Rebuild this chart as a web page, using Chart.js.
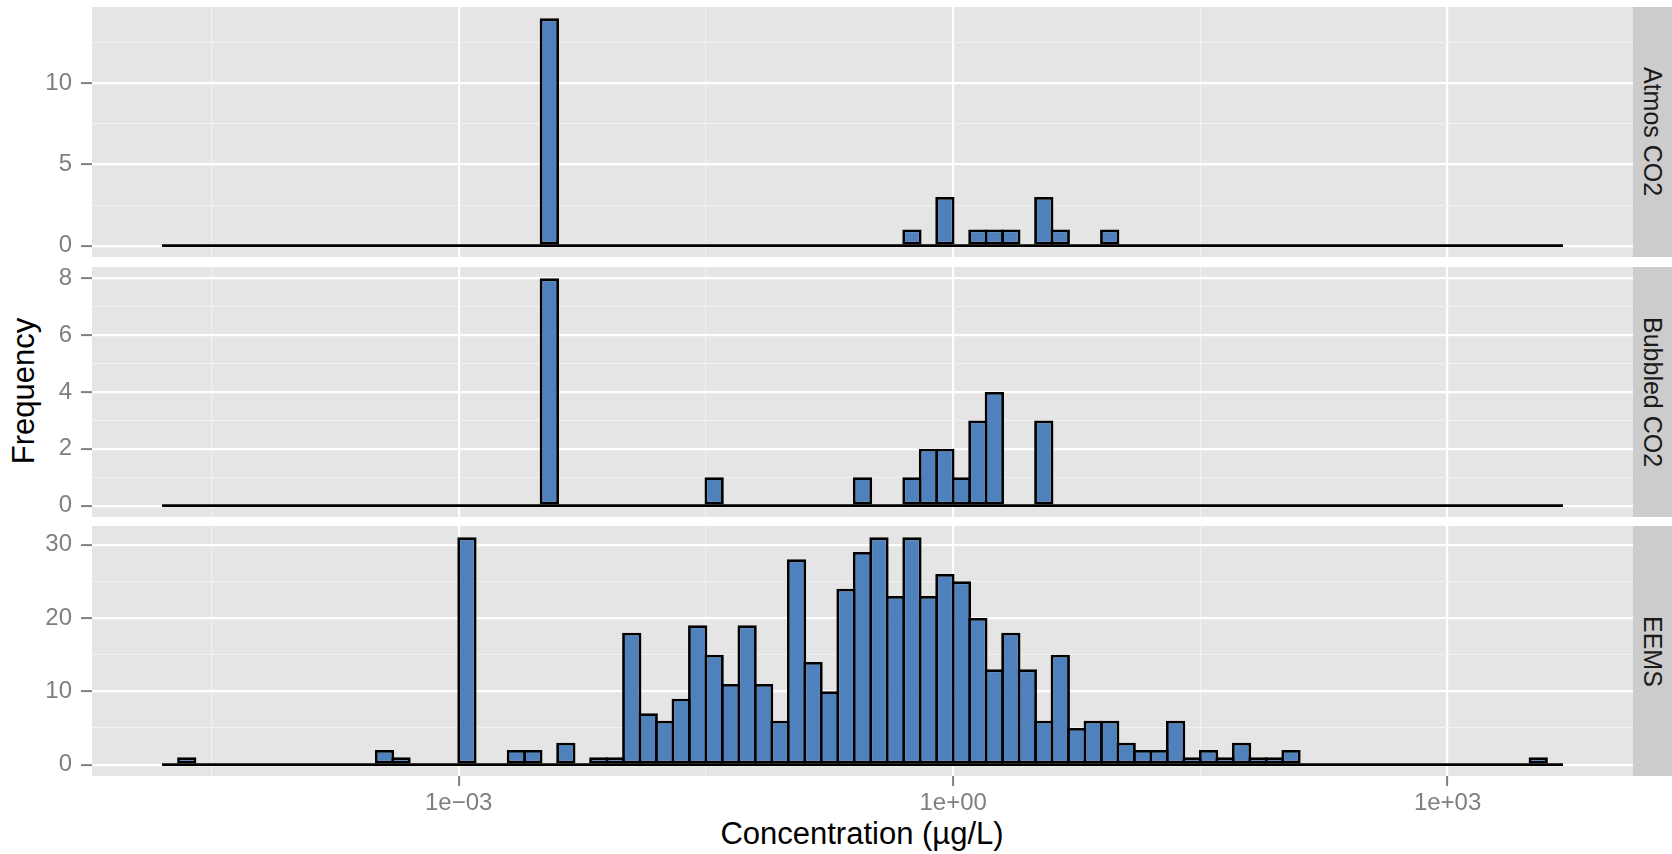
<!DOCTYPE html>
<html>
<head>
<meta charset="utf-8">
<script src="https://cdn.jsdelivr.net/npm/chart.js@4.4.0/dist/chart.umd.min.js"></script>
<style>
  body { margin: 0; width: 1672px; height: 854px; overflow: hidden; background: #fff; position: relative;
         font-family: "Liberation Sans", Arial, Helvetica, sans-serif; }
  canvas { position: absolute; left: 0; }
  .strip { position: absolute; left: 1633px; width: 39px; background: #CCCCCC;
           display: flex; align-items: center; justify-content: center; }
  .strip span { writing-mode: vertical-rl; font-size: 25px; color: #1A1A1A; white-space: nowrap; }
  #ytitle { position: absolute; left: 23px; top: 391px; transform: translate(-50%, -50%) rotate(-90deg);
            font-size: 31px; line-height: 1; white-space: nowrap; color: #000; }
  #xtitle { position: absolute; left: 862px; top: 818px; transform: translateX(-50%);
            font-size: 31px; line-height: 1; white-space: nowrap; color: #000; }
</style>
</head>
<body>
<div id="ytitle">Frequency</div>
<div id="xtitle">Concentration (&micro;g/L)</div>
<script>
// log10 concentration, bin mid points (binwidth 0.1)
var binMids = [
  -4.75,-4.65,-4.55,-4.45,-4.35,-4.25,-4.15,-4.05,-3.95,-3.85,
  -3.75,-3.65,-3.55,-3.45,-3.35,-3.25,-3.15,-3.05,-2.95,-2.85,
  -2.75,-2.65,-2.55,-2.45,-2.35,-2.25,-2.15,-2.05,-1.95,-1.85,
  -1.75,-1.65,-1.55,-1.45,-1.35,-1.25,-1.15,-1.05,-0.95,-0.85,
  -0.75,-0.65,-0.55,-0.45,-0.35,-0.25,-0.15,-0.05,0.05,0.15,
  0.25,0.35,0.45,0.55,0.65,0.75,0.85,0.95,1.05,1.15,
  1.25,1.35,1.45,1.55,1.65,1.75,1.85,1.95,2.05,2.15,
  2.25,2.35,2.45,2.55,2.65,2.75,2.85,2.95,3.05,3.15,
  3.25,3.35,3.45,3.55,3.65
];
var binWidth = 0.1;

var atmosCO2 = [
  0,0,0,0,0,0,0,0,0,0,
  0,0,0,0,0,0,0,0,0,0,
  0,0,0,14,0,0,0,0,0,0,
  0,0,0,0,0,0,0,0,0,0,
  0,0,0,0,0,1,0,3,0,1,
  1,1,0,3,1,0,0,1,0,0,
  0,0,0,0,0,0,0,0,0,0,
  0,0,0,0,0,0,0,0,0,0,
  0,0,0,0,0
];
var bubbledCO2 = [
  0,0,0,0,0,0,0,0,0,0,
  0,0,0,0,0,0,0,0,0,0,
  0,0,0,8,0,0,0,0,0,0,
  0,0,0,1,0,0,0,0,0,0,
  0,0,1,0,0,1,2,2,1,3,
  4,0,0,3,0,0,0,0,0,0,
  0,0,0,0,0,0,0,0,0,0,
  0,0,0,0,0,0,0,0,0,0,
  0,0,0,0,0
];
var eems = [
  0,1,0,0,0,0,0,0,0,0,
  0,0,0,2,1,0,0,0,31,0,
  0,2,2,0,3,0,1,1,18,7,
  6,9,19,15,11,19,11,6,28,14,
  10,24,29,31,23,31,23,26,25,20,
  13,18,13,6,15,5,6,6,3,2,
  2,6,1,2,1,3,1,1,2,0,
  0,0,0,0,0,0,0,0,0,0,
  0,0,0,1,0
];

var panelNames = ["Atmos CO2", "Bubbled CO2", "EEMS"];
var panelCounts = [atmosCO2, bubbledCO2, eems];

var xMajorTicks = [-3, 0, 3];
var xTickLabels = ["1e\u221203", "1e+00", "1e+03"];
var xMinorTicks = [-4.5, -1.5, 1.5];
var yMajorTicks = [[0, 5, 10], [0, 2, 4, 6, 8], [0, 10, 20, 30]];
var yMinorTicks = [[2.5, 7.5, 12.5], [1, 3, 5, 7], [5, 15, 25]];

// layout (pixels)
var panelBox = [{ top: 7, bottom: 257 }, { top: 267, bottom: 517 }, { top: 526, bottom: 776 }];
var PAD = 34;
var PLOT_RIGHT = 1633;
var YAXIS_W = 92;
var XAXIS_H = 70;
var BORDER = 2.8;

var FILL = "#4F81BD";
var PANEL_BG = "#E5E5E5";
var MINOR_GRID = "#F2F2F2";
var AXIS_GREY = "#7F7F7F";

Chart.defaults.font.family = '"Liberation Sans", Arial, Helvetica, sans-serif';

var panelBg = {
	id: "panelBg",
	beforeDraw: function(chart) {
		var a = chart.chartArea;
		var ctx = chart.ctx;
		ctx.save();
		ctx.fillStyle = PANEL_BG;
		ctx.fillRect(a.left, a.top, a.right - a.left, a.bottom - a.top);
		ctx.restore();
	}
};

function sortedTicks(a, b) {
	return a.concat(b).sort(function(p, q) { return p - q; });
}

function tickVal(ctx) {
	return ctx.tick ? ctx.tick.value : null;
}

// x range as ggplot: data range expanded by 5%
var xLo = binMids[0] - binWidth / 2;
var xHi = binMids[binMids.length - 1] + binWidth / 2;
var xExp = (xHi - xLo) * 0.05;

function makePanel(i) {
	var counts = panelCounts[i];
	var box = panelBox[i];
	var showX = (i === panelCounts.length - 1);
	var majors = yMajorTicks[i];
	var yTicks = sortedTicks(majors, yMinorTicks[i]);
	var xTicks = sortedTicks(xMajorTicks, xMinorTicks);
	var yMax = Math.max.apply(null, counts);
	var binPx = binWidth * (PLOT_RIGHT - YAXIS_W) / ((xHi - xLo) * 1.1);

	var canvas = document.createElement("canvas");
	canvas.width = PLOT_RIGHT;
	canvas.height = PAD + (box.bottom - box.top) + (showX ? XAXIS_H : PAD);
	canvas.style.top = (box.top - PAD) + "px";
	document.body.appendChild(canvas);

	var strip = document.createElement("div");
	strip.className = "strip";
	strip.style.top = box.top + "px";
	strip.style.height = (box.bottom - box.top) + "px";
	strip.innerHTML = "<span>" + panelNames[i] + "</span>";
	document.body.appendChild(strip);

	var bars = binMids.map(function(x, k) { return { x: x, y: counts[k] }; });

	new Chart(canvas, {
		type: "bar",
		data: {
			datasets: [{
				type: "bar",
				data: bars,
				backgroundColor: FILL,
				borderColor: "#000000",
				borderWidth: BORDER,
				borderSkipped: false,
				// widen so neighbouring outlines overlap like a centred stroke
				barPercentage: (binPx + BORDER) / binPx,
				categoryPercentage: 1,
				order: 1
			}, {
				type: "line",
				data: [{ x: xLo, y: 0 }, { x: xHi, y: 0 }],
				borderColor: "#000000",
				borderWidth: 2.6,
				pointRadius: 0,
				order: 2
			}]
		},
		options: {
			responsive: false,
			animation: false,
			events: [],
			layout: { padding: { top: PAD, bottom: showX ? 0 : PAD, left: 0, right: 0 } },
			plugins: { legend: { display: false }, tooltip: { enabled: false } },
			scales: {
				x: {
					type: "linear",
					min: xLo - xExp,
					max: xHi + xExp,
					offset: false,
					afterBuildTicks: function(s) { s.ticks = xTicks.map(function(v) { return { value: v }; }); },
					afterFit: function(s) { s.height = showX ? XAXIS_H : 0; },
					ticks: {
						display: showX,
						autoSkip: false,
						maxRotation: 0,
						padding: 3,
						color: AXIS_GREY,
						font: { size: 24 },
						callback: function(v) {
							var j = xMajorTicks.indexOf(v);
							return j >= 0 ? xTickLabels[j] : "";
						}
					},
					grid: {
						offset: false,
						drawTicks: showX,
						tickLength: 10,
						tickWidth: 2,
						color: function(ctx) { return xMajorTicks.indexOf(tickVal(ctx)) >= 0 ? "#FFFFFF" : MINOR_GRID; },
						lineWidth: function(ctx) { return xMajorTicks.indexOf(tickVal(ctx)) >= 0 ? 2.2 : 1.1; },
						tickColor: function(ctx) { return xMajorTicks.indexOf(tickVal(ctx)) >= 0 ? AXIS_GREY : "rgba(0,0,0,0)"; }
					},
					border: { display: false }
				},
				y: {
					type: "linear",
					min: -0.05 * yMax,
					max: 1.05 * yMax,
					afterBuildTicks: function(s) { s.ticks = yTicks.map(function(v) { return { value: v }; }); },
					afterFit: function(s) { s.width = YAXIS_W; },
					ticks: {
						autoSkip: false,
						padding: 9,
						color: AXIS_GREY,
						font: { size: 24 },
						callback: function(v) { return majors.indexOf(v) >= 0 ? String(v) : ""; }
					},
					grid: {
						tickLength: 11,
						tickWidth: 2,
						color: function(ctx) { return majors.indexOf(tickVal(ctx)) >= 0 ? "#FFFFFF" : MINOR_GRID; },
						lineWidth: function(ctx) { return majors.indexOf(tickVal(ctx)) >= 0 ? 2.2 : 1.1; },
						tickColor: function(ctx) { return majors.indexOf(tickVal(ctx)) >= 0 ? AXIS_GREY : "rgba(0,0,0,0)"; }
					},
					border: { display: false }
				}
			}
		},
		plugins: [panelBg]
	});
}

for (var p = 0; p < panelCounts.length; p++) {
	makePanel(p);
}
</script>
</body>
</html>
